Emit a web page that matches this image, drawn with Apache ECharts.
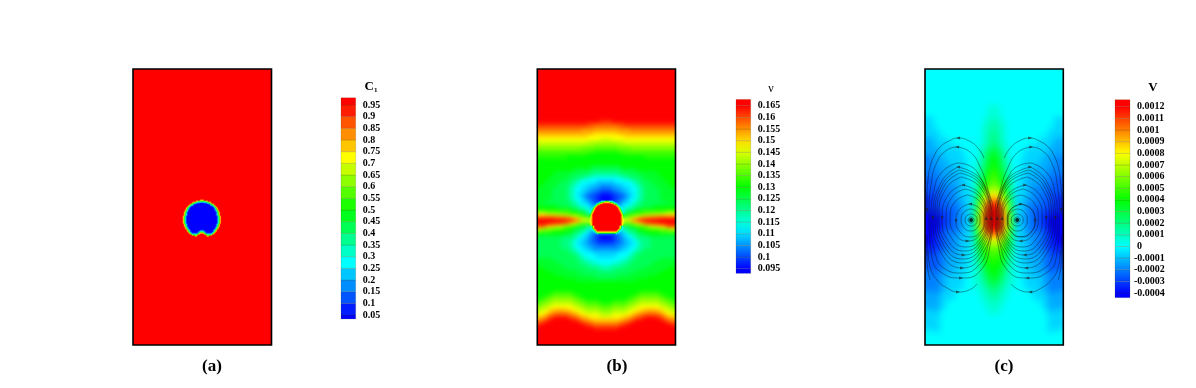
<!DOCTYPE html>
<html><head><meta charset="utf-8">
<style>
html,body{margin:0;padding:0;background:#fff}
#c{width:1196px;height:388px}
#c canvas[data-zr-dom-id="zr_0"]{filter:blur(2.2px)}
#c canvas[data-zr-dom-id="zr_1"]{filter:blur(0.6px)}
#c canvas[data-zr-dom-id="zr_3"]{filter:blur(3.5px)}
#c canvas[data-zr-dom-id="zr_4"]{filter:blur(0.3px)}
</style>
<script src="https://cdn.jsdelivr.net/npm/echarts@6/dist/echarts.min.js"></script>
</head><body><div id="c"></div>
<script>
// Colour-level key: a = bottom of the rainbow ... y = top; z = no cell. Rows are run-length coded, left half of a symmetric field.
const levelKey = 'abcdefghijklmnopqrstuvwxy';
const ticksA = [0.05,0.1,0.15,0.2,0.25,0.3,0.35,0.4,0.45,0.5,0.55,0.6,0.65,0.7,0.75,0.8,0.85,0.9,0.95];
const ticksB = [0.095,0.1,0.105,0.11,0.115,0.12,0.125,0.13,0.135,0.14,0.145,0.15,0.155,0.16,0.165];
const ticksC = [-0.0004,-0.0003,-0.0002,-0.0001,0,0.0001,0.0002,0.0003,0.0004,0.0005,0.0006,0.0007,0.0008,0.0009,0.001,0.0011,0.0012];
const capsA = [0.033,0.981], capsB = [0.093,0.1677], capsC = [-0.00044,0.00126];

const bubbleA = ['21y','19y2t','15y2t4n','12y2t2n5h','11yt2n2h3c2a','9yt2nh2c6a','8ytn2hc8a','7ytnh2c9a','6ytnhc11a','5ytnhc12a','5ytnhc12a','4ytnhc13a','4ytnhc13a','3ytnhc14a','3ytnhc14a','3ytnhc14a','3ytnhc14a','2ytnhc15a','2ytnhc15a','2ytnhc15a','2ytnhc15a','2ytnhc15a','2ytnhc15a','2ytnhc15a','2ytnhc15a','3ytnhc14a','3ytnhc14a','3ytnhc14a','4ytnhc13a','4ytnhc13a','5ytnhc12a','6ytnhc9abc','6ytnhc7abc2h','7ytnhc5abch2n','8ytnh6chn2t','9ytn5h2nt2y','11yt4nt4y','14y2t5y','21y','21y','21y'];

const bubbleB = ['21z','21z','15z4g2m','13z2g3m3s','11z2g2m2s4w','10zg2ms2w5y','9zgms2w7y','8zgmsw9y','7zgmsw10y','6zgmsw11y','6zgmsw11y','5zgmsw12y','5zgmsw12y','4zgmsw13y','4zgmsw13y','4zmsw14y','4zmsw14y','4znsw14y','4zpsw14y','4zqtw14y','4zrtw14y','4zstw14y','4zstw14y','4zstw14y','4zqsw14y','4zpsw14y','4zosw14y','5zgmsw12y','5zgmsw12y','5zgmsw12y','6zgmsw11y','7zgmsw10y','8zgms10w','9zgm10s','11zg9m','13z8c','21z','21z','21z','21z','21z'];

const fieldB = ['23y','23y','23y','23y','23y','23y','23y','23y','23y','23y','23y','23y','23y','23y','23y','23y','23y',
'21y2x','17x6w','19w4v','15v8u','19u4t','17t6s','21s2r','17r6q','19q4p','15p8o','19o4n','17n6m','10n13m','23m','23m','18m5l','12m6l5k',
'6m7l5k5j','5m6l5k3j4i','4m6l3k2j2ih5g','3m5l3k2jih5g3f','2m5l4kjih3g3f3e','m5l4kjih2g3f3e2d','5l5kjih2g2f2e2d2c','5l5kjihg2fe2d2c2b','5l5kjihgfed2c2b2a',
'5l5kjihggfedccb2a','3l8kjihgffedc2ba','7l4k2jihggfe4d','7m4l2kj2ihg5f','3o8n2ml2ki6h','3s3r3q2p2o2nmk6j','6w3v2utsrqpo6n','12yxvus7s','5y3x2wutsrpo2o5n','3w3t3r2ponm2lk6j','2r3p3o2n2ml2kji6h','5n5m2lk2jigfe4d','9l3kjihgfedcb2a','8k4jihgffedcb2a',
'8k3jihg2fed2c3b','8k3jihg2f2e2d3c','8k3jih2g2f2e4d','10k2jih2g2f5e','11k2jih4g4f','13kjih4g3f','5l8k2ji2h5g','7l7k2j2i2h3g','8l7k3j3i2h','2m8l7k4j2i','4m9l7k3j','6m9l8k','9m10l4k','13m10l','23m','23m','23m',
'5m7n11m','3m2n7o2n9m','m2n2o7p2o2n7m','n2o2p7q2p2o5n2m','o2p2q7r2q2p5o2n','p2q2r7s2r2q5p2o','q2rs2t4u2t2s2r5q2p','r2stu6v2ut2s5r2q','2tuv2w4x2w2vu2t4s2r','u2vwx6y2xw2v2u5t','2wx11yx2w2v4u','x15y2x5w','19y4x','23y','23y','23y','23y','23y'];

const fieldC = ['23g','23g','23g','23g','23g','23g','23g','23g','23g','23g','23g','23g','21g2h','21g2h','21g2h','21g2h',
'3f17g3h','3f17g2hi','3f16g2h2i','3f16g2h2i','5f14g2h2i','5f14g2hij','5f14gh2ij','3e5f11g2hij','3e5f11g2hij','3e7f8g2hijk','5e7f6g2hijk','5e8f5ghijkl','5e8f5ghijkl','3d4e6f5ghiklm','3d4e7f4g2iklm','3d4e7f3gh2iklm','3d7e4f3ghijklm','5d5e4f3ghijlmn','5d5e4f3ghiklmn','5d7e2f3ghjklmo',
'3c4d5e3fghhjkmno','3c4d5e3fghijlmno','3c4d5e3fghikmnop','5c5d2e3fghikmnop','5c5d2e3fghilnpqr','5c5d2e4fhjloqrs','3b4c3d2e4fhjmprst','3b4c3d3e3fiknqstv','3b4c5de3fikoruwx','3b4c5de3filpsvxy','5b5c2de3filpswxy','5b5c2d2e2fimqtxyy','3a4b3c2d2e2fjmqtxyy','5a2b3c2d2e2fjnruyyy','5a2b3c2d2e2fjnruyyy','5a2b3c2d2e2fjnruyyy','5a2b3c2d2e2fjnqtxyy','5a5c2de3fjmqtxyy','5a2c5de3filpsvww','3a2b2c3d3e3filoruvv','3a2b2c3d3e3fiknprss','3a2b2c3d2e4fikmoqrr','3a2b2c3d2e4fijmnpqq',
'5b2c3d2e3fgijlnopp','5b5d2e3fghjlmnoo','3b2c2d5e3fghikmnno','5c2d5e3fghiklnnn','5c2d5e3fghijlmnn','5c2d5e3fghijlmmn','5c2d3e5fghhjklmm','5c2d3e4f2ghhiklmm','3d2c5e4f2ghhijllm','5d5e4f2ghhijklm','5d2e6f3ghhijkll','5d2e6f3ghhhijkl','5d2e6f3ghhhijkk','5d2e6f3ghhhiijk','5d2e5f5gghhijj','3e2d5f7gghhiij','5e5f7gghhhii','5e5f7ggghhii','5e2f10ggghhhi','5e2f10gggghhh','5e2f10gggghhh','3f2e12ggggghh','5f12ggggghh','5f18g','5f18g','5f18g','5f18g','5f18g','3g2f18g','23g','23g','23g','23g'];

// Streamlines of panel (c) in panel units (0-138 across, 0-276 up).
const streamLeft = [
[[46,128],[48.1,127.1],[49,125],[48.1,122.9],[46,122],[43.9,122.9],[43,125],[43.9,127.1],[46,128]],
[[46,131],[50.3,129.3],[52,125],[50.3,120.7],[46,119],[41.7,120.7],[40,125],[41.7,129.3],[46,131]],
[[45.5,136],[52.2,132.8],[55,125],[52.2,117.2],[45.5,114],[38.8,117.2],[36,125],[38.8,132.8],[45.5,136]],
[[45,141],[54.9,136.2],[59,124.5],[54.9,112.8],[45,108],[35.1,112.8],[31,124.5],[35.1,136.2],[45,141]],
[[42.5,150],[54.9,143.3],[60,127],[54.9,110.7],[42.5,104],[30.1,110.7],[25,127],[30.1,143.3],[42.5,150]],
[[40,156],[55.2,147.6],[61,127],[55.2,106.4],[41,98],[26.8,106.4],[21,127],[26.8,147.6],[40,156]],
[[38,160],[55.5,150.4],[62,127],[55.5,103.6],[39.5,94],[23.5,103.6],[17,127],[23.5,150.4],[38,160]],
[[36,168],[55.9,156.7],[63,129],[55.9,101.3],[38.5,90],[21.1,101.3],[14,129],[21.1,156.7],[36,168]],
[[35,172],[56.5,159.5],[64,129],[56.5,98.5],[38,86],[19.5,98.5],[12,129],[19.5,159.5],[35,172]],
[[34,175],[57,161.5],[65,128.5],[57,95.5],[37.5,82],[18,95.5],[10,128.5],[18,161.5],[34,175]],
[[33,178],[57.6,163.3],[66,127.5],[57.6,91.7],[37,77],[16.4,91.7],[8,127.5],[16.4,163.3],[33,178]],
[[32,182],[45,179],[55,168],[63,148],[67,127],[63,100],[54,80],[36.5,72],[20,76],[10,92],[6,127],[9,155],[17,173],[32,182]],
[[32,198],[45,193],[55,178],[63,155],[68,132],[65,100],[55,74],[36,67],[17,72],[7,88],[4,132],[6,160],[12,183],[22,195],[32,198]],
[[59,187],[52,198],[42,205],[33,207],[24,204],[15,198],[9,189],[5,178],[3,165],[2,150],[2,130]],
[[52,61],[44,55],[33,53],[22,57],[12,65],[5,78],[3,95]],
[[2,110],[2,85],[5,65]]];
const streamRight = [
[[92,128],[94.1,127.1],[95,125],[94.1,122.9],[92,122],[89.9,122.9],[89,125],[89.9,127.1],[92,128]],
[[92,131],[96.3,129.3],[98,125],[96.3,120.7],[92,119],[87.7,120.7],[86,125],[87.7,129.3],[92,131]],
[[92.5,136],[99.2,132.8],[102,125],[99.2,117.2],[92.5,114],[85.8,117.2],[83,125],[85.8,132.8],[92.5,136]],
[[96,141],[106,136.2],[110,124.5],[106,112.8],[96,108],[86,112.8],[82,124.5],[86,136.2],[96,141]],
[[96,140.6],[105.7,136],[109.6,124.5],[105.7,113],[96,108.4],[86.3,113],[82.4,124.5],[86.3,136],[96,140.6]],
[[95.5,150],[107.9,143.3],[113,127],[107.9,110.7],[95.5,104],[83.1,110.7],[78,127],[83.1,143.3],[95.5,150]],
[[98,156],[111.2,147.6],[117,127],[111.2,106.4],[97,98],[82.8,106.4],[77,127],[82.8,147.6],[98,156]],
[[100,160],[114.5,150.4],[121,127],[114.5,103.6],[98.5,94],[82.5,103.6],[76,127],[82.5,150.4],[100,160]],
[[102,168],[116.9,156.7],[124,129],[116.9,101.3],[99.5,90],[82.1,101.3],[75,129],[82.1,156.7],[102,168]],
[[103,172],[118.5,159.5],[126,129],[118.5,98.5],[100,86],[81.5,98.5],[74,129],[81.5,159.5],[103,172]],
[[104,175],[120,161.5],[128,128.5],[120,95.5],[100.5,82],[81,95.5],[73,128.5],[81,161.5],[104,175]],
[[105,178],[121.6,163.3],[130,127.5],[121.6,91.7],[101,77],[80.4,91.7],[72,127.5],[80.4,163.3],[105,178]],
[[106,182],[93,179],[83,168],[75,148],[71,127],[75,100],[84,80],[101.5,72],[118,76],[128,92],[132,127],[129,155],[121,173],[106,182]],
[[106,198],[93,193],[83,178],[75,155],[70,132],[73,100],[83,74],[102,67],[121,72],[131,88],[134,132],[132,160],[126,183],[116,195],[106,198]],
[[79,187],[86,198],[96,205],[105,207],[114,204],[123,198],[129,189],[133,178],[135,165],[136,150],[136,130]],
[[86,61],[94,55],[105,53],[116,57],[126,65],[133,78],[135,95]],
[[136,110],[136,85],[133,65]]];
// x, y, heading in degrees
const arrowHeads = [[33,207,90],[32,198,90],[33,178,90],[38,160,90],[45,141,90],
[33,53,270],[36,67,270],[37,77,270],[38.5,90,270],[42.5,104,270],
[2,135,180],[8,127,180],[17,127,180],[31,124,180],[61,127,0],[66,127,0],
[105,207,270],[106,198,270],[105,178,270],[100,160,270],[96,141,270],
[105,53,90],[102,67,90],[101,77,90],[99.5,90,90],[95.5,104,90],
[136,135,180],[130,127,180],[121,127,180],[110,124,180],[77,127,0],[72,127,0]];
const vortexCentres = [[46,125],[92,125]];

const rainbow = ['#0000ff','#00ffff','#00ff00','#ffff00','#ff0000'];
const serif = '"Liberation Serif","Times New Roman",serif';
const TOP = 4;

function unpack(s){return s.replace(/(\d*)([a-z])/g,(m,n,l)=>l.repeat(n?+n:1));}
function fullRows(rows){return rows.map(r=>{const h=unpack(r);return h+h.split('').reverse().join('');});}
function cells(rows,lo,hi,pad){
  const out=[],full=fullRows(rows),n=full.length,m=full[0].length;
  for(let j=-pad;j<n+pad;j++){const r=full[Math.max(0,Math.min(n-1,j))];
    for(let i=-pad;i<m+pad;i++){const k=levelKey.indexOf(r[Math.max(0,Math.min(m-1,i))]);
      if(k>=0)out.push([i+pad,j+pad,lo+k/24*(hi-lo)]);}}
  return out;
}
function hex(p){
  p=Math.max(0,Math.min(1,p));const q=p*4,i=Math.min(3,Math.floor(q)),t=q-i;
  const a=rainbow[i],b=rainbow[i+1],c=k=>{const x=parseInt(a.substr(k,2),16),y=parseInt(b.substr(k,2),16);return Math.round(x+(y-x)*t);};
  return 'rgb('+c(1)+','+c(3)+','+c(5)+')';
}
function idx(n){return Array.from({length:n},(_,i)=>String(i));}

const grids=[],xAxes=[],yAxes=[],series=[];
function addHeat(rows,lo,hi,box,vm,pad,layer){
  const g=grids.length;
  grids.push(Object.assign({containLabel:false,show:false},box));
  const data=rows?cells(rows,lo,hi,pad):[[0,0,hi]];
  const cols=rows?unpack(rows[0]).length*2+2*pad:1,n=rows?rows.length+2*pad:1;
  xAxes.push({type:'category',gridIndex:g,show:false,data:idx(cols)});
  yAxes.push({type:'category',gridIndex:g,show:false,inverse:true,data:idx(n)});
  vm.seriesIndex.push(series.length);
  series.push({type:'heatmap',xAxisIndex:g,yAxisIndex:g,data,silent:true,progressive:0,zlevel:layer,itemStyle:{borderWidth:0},emphasis:{disabled:true}});
}
function addFrame(box){
  const g=grids.length;
  grids.push(Object.assign({show:true,borderColor:'#000',borderWidth:1.6,backgroundColor:'transparent',zlevel:TOP,z:5},box));
  xAxes.push({type:'value',gridIndex:g,show:false,min:0,max:138,splitLine:{show:false}});
  yAxes.push({type:'value',gridIndex:g,show:false,min:0,max:276,splitLine:{show:false}});
  return g;
}
function addLegend(box,ticks,caps,lo,hi,axMin,axMax,step,smooth,fmt){
  const g=grids.length;
  grids.push(Object.assign({show:false,zlevel:TOP},box));
  xAxes.push({type:'value',gridIndex:g,show:false,min:0,max:1,splitLine:{show:false}});
  yAxes.push({type:'value',gridIndex:g,position:'right',min:axMin,max:axMax,interval:step,zlevel:TOP,
    axisLine:{show:false},axisTick:{show:false},splitLine:{show:false},
    axisLabel:{showMinLabel:false,showMaxLabel:false,margin:fmt?4:7,color:'#000',fontFamily:serif,fontWeight:'bold',fontSize:10,formatter:fmt||undefined,
      rich:fmt?{n:{color:'#000',fontFamily:serif,fontWeight:'bold',fontSize:10},p:{color:'#000',fontFamily:serif,fontWeight:'bold',fontSize:10,padding:[0,0,0,3]}}:undefined}});
  const edges=[caps[0]].concat(ticks,[caps[1]]);
  const bands=[];
  for(let i=0;i<edges.length-1;i++){
    const mid=i===0?0:(i===edges.length-2?1:((edges[i]+edges[i+1])/2-lo)/(hi-lo));
    const pl=smooth?(edges[i]-lo)/(hi-lo):mid, ph=smooth?(edges[i+1]-lo)/(hi-lo):mid;
    bands.push([edges[i],edges[i+1],pl,ph]);
  }
  series.push({type:'custom',xAxisIndex:g,yAxisIndex:g,silent:true,zlevel:TOP,data:bands,encode:{y:[0,1]},
    renderItem:(params,api)=>{
      const a=api.coord([0,api.value(0)]),b=api.coord([1,api.value(1)]);
      return {type:'rect',shape:{x:a[0],y:b[1],width:b[0]-a[0],height:a[1]-b[1]},
        style:{fill:new echarts.graphic.LinearGradient(0,0,0,1,[{offset:0,color:hex(api.value(3))},{offset:1,color:hex(api.value(2))}]),stroke:'rgba(60,60,0,0.28)',lineWidth:0.6}};
    }});
}
function maskAround(l,t,w,h){
  const m=22,s={fill:'#fff'},r=(x,y,a,b)=>({type:'rect',zlevel:TOP,z:1,silent:true,shape:{x,y,width:a,height:b},style:s});
  return [r(l-m,t-m,w+2*m,m),r(l-m,t+h,w+2*m,m),r(l-m,t,m,h),r(l+w,t,m,h)];
}

const vmA={show:false,dimension:2,min:0.05,max:0.95,inRange:{color:rainbow},seriesIndex:[]};
const vmB={show:false,dimension:2,min:0.095,max:0.165,inRange:{color:rainbow},seriesIndex:[]};
const vmC={show:false,dimension:2,min:-0.0004,max:0.0012,inRange:{color:rainbow},seriesIndex:[]};

// Panel (a)
addHeat(null,0.05,0.95,{left:127,top:63,width:150,height:288},vmA,0,0);
addHeat(bubbleA,0.05,0.95,{left:181,top:199,width:42,height:41},vmA,0,1);
addFrame({left:133,top:69,width:138.5,height:276});
addLegend({left:341,top:93.33,width:14.7,height:233.34},ticksA,capsA,0.05,0.95,0,1,0.05,false);
// Panel (b)
addHeat(fieldB,0.095,0.165,{left:531,top:63,width:150,height:288},vmB,2,0);
addHeat(bubbleB,0.095,0.165,{left:586,top:199,width:42,height:41},vmB,0,1);
addFrame({left:537.3,top:69,width:138.2,height:276});
addLegend({left:736,top:94.06,width:14.7,height:186.3},ticksB,capsB,0.095,0.165,0.09,0.17,0.005,true);
// Panel (c)
addHeat(fieldC,-0.0004,0.0012,{left:916,top:60,width:156,height:294},vmC,3,3);
const fc=addFrame({left:925,top:69,width:138.3,height:276});
addLegend({left:1115,top:95.06,width:15,height:209.6},ticksC,capsC,-0.0004,0.0012,-0.0005,0.0013,0.0001,true,
  v=>{const s=String(+v.toFixed(4));return v<0?'{n|'+s+'}':'{p|'+s+'}';});

streamLeft.concat(streamRight).forEach(line=>{
  series.push({type:'line',xAxisIndex:fc,yAxisIndex:fc,data:line,smooth:0.5,symbol:'none',silent:true,zlevel:TOP,z:3,clip:true,
    lineStyle:{color:'#111',width:0.55,opacity:0.75}});
});
series.push({type:'scatter',xAxisIndex:fc,yAxisIndex:fc,data:arrowHeads,silent:true,zlevel:TOP,z:4,symbol:'triangle',symbolSize:[3,4],
  symbolRotate:(v)=>v[2],itemStyle:{color:'#222',opacity:0.65}});
series.push({type:'scatter',xAxisIndex:fc,yAxisIndex:fc,data:vortexCentres,silent:true,zlevel:TOP,z:4,symbol:'circle',symbolSize:4,itemStyle:{color:'#000'}});

const cap=(t,x)=>({text:t,left:x,top:367,padding:0,textAlign:'center',textVerticalAlign:'middle',zlevel:TOP,textStyle:{fontFamily:serif,fontWeight:'bold',fontSize:17,color:'#000'}});
const titles=[cap('(a)',212),cap('(b)',617),cap('(c)',1004),
 {text:'{b|C}{s|1}',left:371,top:87,padding:0,textAlign:'center',textVerticalAlign:'middle',zlevel:TOP,textStyle:{rich:{b:{fontFamily:serif,fontWeight:'bold',fontSize:13,color:'#000'},s:{fontFamily:serif,fontWeight:'bold',fontSize:7,color:'#000',padding:[6,0,0,0]}}}},
 {text:'ν',left:771,top:89,padding:0,textAlign:'center',textVerticalAlign:'middle',zlevel:TOP,textStyle:{fontFamily:serif,fontWeight:'normal',fontSize:12,color:'#000'}},
 {text:'V',left:1153,top:88,padding:0,textAlign:'center',textVerticalAlign:'middle',zlevel:TOP,textStyle:{fontFamily:serif,fontWeight:'bold',fontSize:13,color:'#000'}}];

const chart=echarts.init(document.getElementById('c'),null,{renderer:'canvas',width:1196,height:388});
chart.setOption({animation:false,backgroundColor:'#fff',title:titles,grid:grids,xAxis:xAxes,yAxis:yAxes,visualMap:[vmA,vmB,vmC],series,
  graphic:{elements:[].concat(maskAround(133,69,138.5,276),maskAround(537.3,69,138.2,276),maskAround(925,69,138.3,276))}});
</script></body></html>
